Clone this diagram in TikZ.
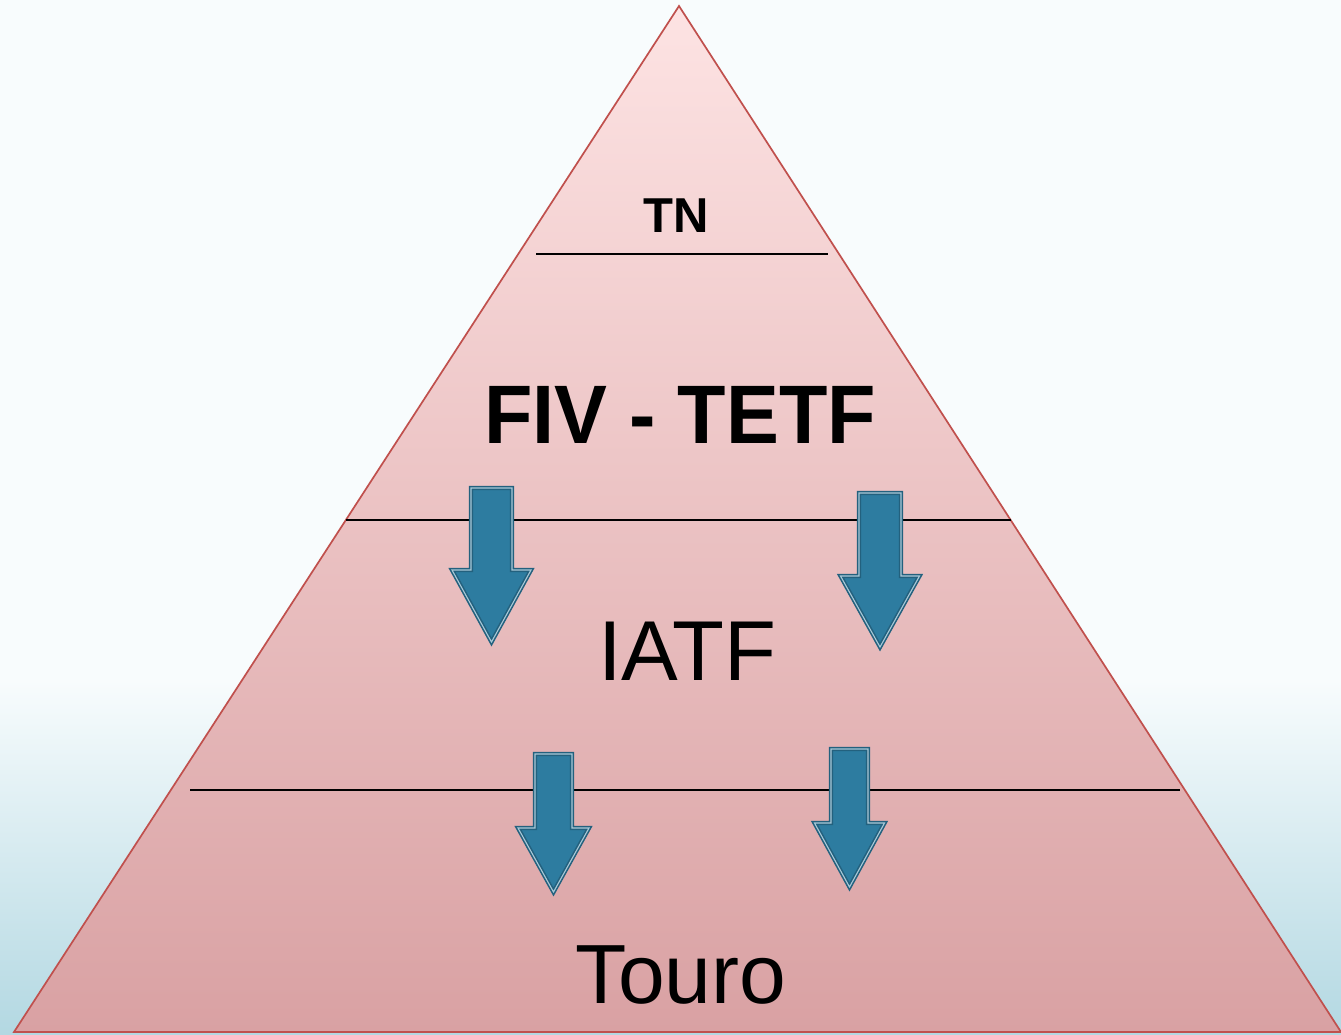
\documentclass[tikz,border=0pt]{standalone}
\usepackage{fontspec}
\setmainfont{Liberation Sans}
\definecolor{bgtop}{HTML}{F8FCFD}
\definecolor{bgbot}{HTML}{B3D8E2}
\definecolor{tritop}{HTML}{FDE3E3}
\definecolor{tribot}{HTML}{D9A1A3}
\definecolor{triedge}{HTML}{C0504D}
\definecolor{arrfill}{HTML}{2D7CA0}
\definecolor{arrdark}{HTML}{23617E}
\definecolor{arrlight}{HTML}{A9C9D8}
\tikzset{
  arrowshape/.style={fill=arrfill, draw=arrdark, double=arrlight, double distance=1.1pt, line width=1.6pt, line join=miter},
  levelline/.style={draw=black, line width=2.6pt},
  label/.style={anchor=base, inner sep=0pt, text=black}
}
% center x, top y, shaft half width, head y, head half width, tip y
\newcommand{\dnarrow}[6]{%
  \path[arrowshape] (#1-#3,#2) -- (#1+#3,#2) -- (#1+#3,#4) -- (#1+#5,#4)
    -- (#1,#6) -- (#1-#5,#4) -- (#1-#3,#4) -- cycle;}
\begin{document}
\begin{tikzpicture}[x=1pt,y=-1pt]
\useasboundingbox (0,0) rectangle (1341,1034);
\fill[bgtop] (0,0) rectangle (1341,1034);
\shade[top color=bgtop, bottom color=bgbot] (0,680) rectangle (1341,1034);
% pyramid
\shade[top color=tritop, bottom color=tribot] (679,6) -- (1341,1032) -- (14,1032) -- cycle;
\draw[triedge, line width=1.7pt, line join=miter] (679,6) -- (1341,1032) -- (14,1032) -- cycle;
% level lines
\draw[levelline] (536,254) -- (828,254);
\draw[levelline] (346,520) -- (1011,520);
\draw[levelline] (190,790) -- (1180,790);
% texts
\node[label, font=\bfseries\fontsize{49}{49}\selectfont] (tn) at (676,232) {TN};
\node[label, font=\bfseries\fontsize{83}{83}\selectfont] (fiv) at (680,443) {\scalebox{0.955}[1]{FIV - TETF}};
\node[label, font=\fontsize{85}{85}\selectfont] (iatf) at (687,680) {IATF};
\node[label, font=\fontsize{84}{84}\selectfont] (touro) at (681,1003) {Touro};
% arrows
\dnarrow{491.5}{488}{20.5}{570}{39.5}{642}
\dnarrow{880}{493}{21}{576}{39.5}{647}
\dnarrow{553.5}{754}{18.5}{828}{35.5}{892}
\dnarrow{849.5}{749}{18.5}{823}{35}{887}
\end{tikzpicture}
\end{document}
